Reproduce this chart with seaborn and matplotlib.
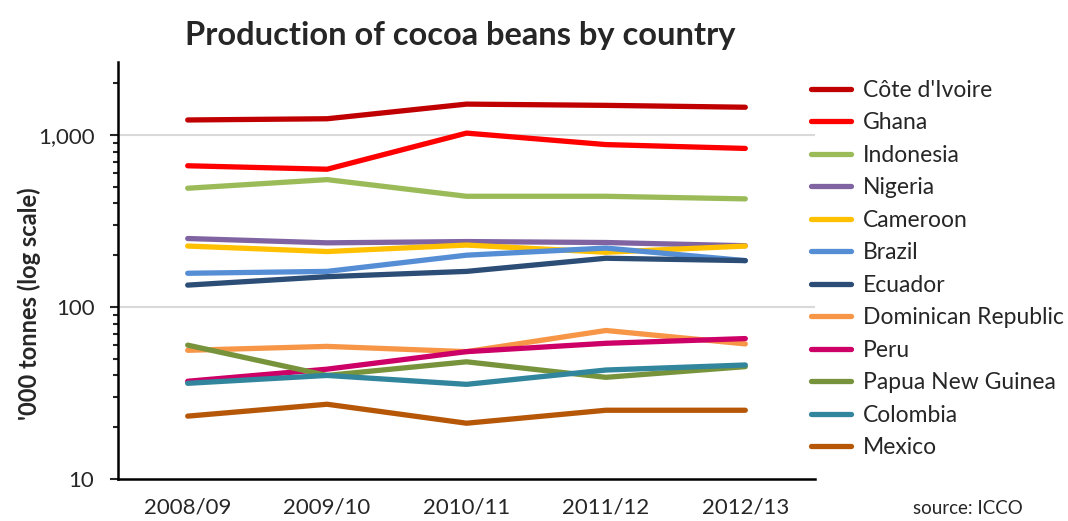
import numpy as np
import pandas as pd
import matplotlib
matplotlib.use("Agg")
import matplotlib.pyplot as plt
import seaborn as sns
from matplotlib.lines import Line2D
from matplotlib.ticker import FixedLocator, FuncFormatter, NullFormatter

seasons = ["2008/09", "2009/10", "2010/11", "2011/12", "2012/13"]

countries = ["Côte d'Ivoire", "Ghana", "Indonesia", "Nigeria", "Cameroon", "Brazil",
             "Ecuador", "Dominican Republic", "Peru", "Papua New Guinea", "Colombia", "Mexico"]

# '000 tonnes
cote_divoire = [1222, 1242, 1511, 1486, 1449]
ghana = [662, 632, 1025, 879, 835]
indonesia = [490, 550, 440, 440, 425]
nigeria = [250, 236, 240, 237, 227]
cameroon = [226, 210, 229, 208, 226]
brazil = [157, 161, 200, 220, 186]
ecuador = [134, 150, 161, 192, 186]
dominican_rep = [56, 59, 55, 73, 61]
peru = [37, 43.5, 55, 61.5, 65.5]
papua_ng = [60, 40, 48, 39, 45]
colombia = [36, 40, 35.5, 43, 46]
mexico = [23.2, 27.2, 21.1, 25.1, 25.1]

colors = ["#C00000", "#FF0000", "#9BBB59", "#8064A2", "#FFC000", "#558ED5",
          "#2C4D75", "#F79646", "#CC0066", "#77933C", "#31859C", "#B65708"]

series = [cote_divoire, ghana, indonesia, nigeria, cameroon, brazil, ecuador,
          dominican_rep, peru, papua_ng, colombia, mexico]

rows = []
for name, vals in zip(countries, series):
    for s, v in zip(seasons, vals):
        rows.append({"season": s, "country": name, "tonnes": v})
df = pd.DataFrame(rows)

sns.set_style("white")
plt.rcParams["font.family"] = ["Lato", "DejaVu Sans"]

fig = plt.figure(figsize=(10.68, 5.21), dpi=100)
ax = fig.add_axes([118 / 1068, 42 / 521, (815 - 118) / 1068, (479 - 62) / 521])

palette = dict(zip(countries, colors))
sns.lineplot(data=df, x="season", y="tonnes", hue="country", hue_order=countries,
             palette=palette, linewidth=3.8, ax=ax, legend=False, sort=False)

ax.set_yscale("log")
ax.set_ylim(10, 2655)
ax.set_xlim(-0.5, 4.5)

ax.yaxis.set_major_locator(FixedLocator([10, 100, 1000]))
ax.yaxis.set_major_formatter(FuncFormatter(lambda v, p: f"{int(v):,}"))
minors = [m * 10 ** e for e in (1, 2) for m in range(2, 10)] + [2000]
ax.yaxis.set_minor_locator(FixedLocator(minors))
ax.yaxis.set_minor_formatter(NullFormatter())
ax.tick_params(axis="y", which="major", direction="out", length=6, width=1.5,
               labelsize=16, pad=11, left=True)
ax.tick_params(axis="y", which="minor", direction="out", length=3.5, width=1.5, left=True)
ax.tick_params(axis="x", length=0, labelsize=16, pad=13)

for v in (100, 1000):
    ax.axhline(v, color="#D9D9D9", linewidth=1.5, zorder=0)

for side in ("top", "right"):
    ax.spines[side].set_visible(False)
for side in ("left", "bottom"):
    ax.spines[side].set_color("black")
    ax.spines[side].set_linewidth(1.8)

ax.set_xlabel("")
ax.set_ylabel("")
fig.text(29 / 1068, 1 - 304 / 521, "'000 tonnes (log scale)", rotation=90,
         ha="center", va="center", fontsize=17, fontweight="bold")

handles = [Line2D([0], [0], color=c, linewidth=3.8) for c in colors]
fig.legend(handles, countries, loc="upper left", bbox_to_anchor=(811 / 1068, 1 - 80 / 521),
           frameon=False, fontsize=16.5, handlelength=1.75, handletextpad=0.5,
           labelspacing=0.5, borderaxespad=0, borderpad=0)

fig.text(460 / 1068, 1 - 35 / 521, "Production of cocoa beans by country",
         ha="center", va="center", fontsize=23.5, fontweight="bold")
fig.text(968 / 1068, 1 - 508 / 521, "source: ICCO", ha="center", va="center", fontsize=13.5)

fig.savefig("out.png", dpi=100)
